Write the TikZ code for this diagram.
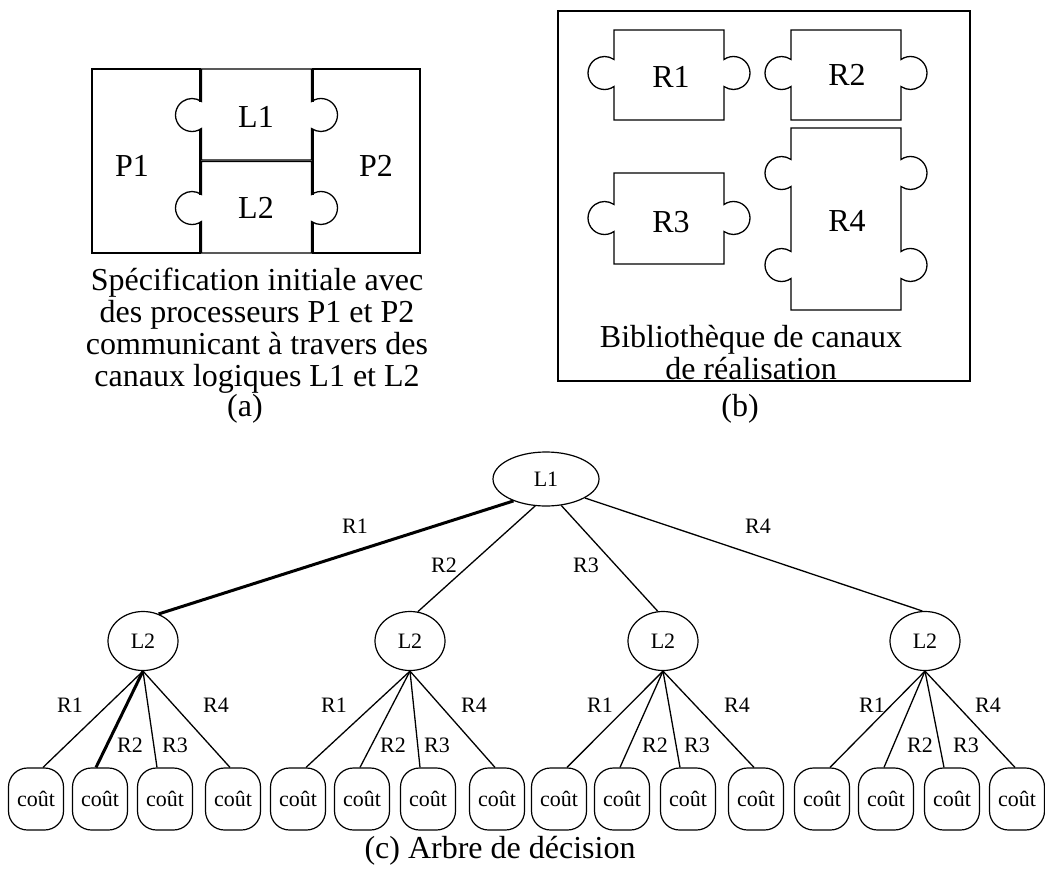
\documentclass[tikz,border=0pt]{standalone}
\usepackage{fontspec}
\setmainfont{Liberation Serif}
\usetikzlibrary{shapes.geometric}
\begin{document}
\begin{tikzpicture}[x=1pt,y=-1pt,
  ln/.style={line width=1.3pt},
  big/.style={font=\fontsize{32}{32}\selectfont},
  small/.style={font=\fontsize{22}{24}\selectfont},
  ell/.style={draw, ellipse, line width=1.2pt, inner sep=0pt, small},
  leaf/.style={draw, rectangle, rounded corners=19pt, minimum width=55pt, minimum height=62pt, inner sep=0pt, line width=1.2pt, small},
  lab/.style={small, inner sep=0pt},
  txt/.style={big, inner sep=0pt},
  heavy/.style={line width=3pt}]
\useasboundingbox (0,0) rectangle (1045,878);

% ---------- (a) ----------
\draw[ln] (200,101.5) -- (200,69) -- (92,69) -- (92,253) -- (200,253) -- (200,221.5)
          (200,128.5) -- (200,194.5);
\draw[ln] (313,101.5) -- (313,69) -- (420,69) -- (420,253) -- (313,253) -- (313,221.5)
          (313,128.5) -- (313,194.5);
\draw[ln] (201.5,69) -- (311.5,69) -- (311.5,101.5) arc[start angle=125.1, end angle=-125.1, radius=16.5pt]
   -- (311.5,160) -- (201.5,160) -- (201.5,128.5) arc[start angle=-54.9, end angle=-305.1, radius=16.5pt] -- cycle;
\draw[ln] (201.5,161.5) -- (311.5,161.5) -- (311.5,194.5) arc[start angle=125.1, end angle=-125.1, radius=16.5pt]
   -- (311.5,253) -- (201.5,253) -- (201.5,221.5) arc[start angle=-54.9, end angle=-305.1, radius=16.5pt] -- cycle;
\node[txt] (p1) at (132,166) {P1};
\node[txt] (p2) at (376,166) {P2};
\node[txt] (l1) at (256,117) {L1};
\node[txt] (l2) at (256,208) {L2};
\node[txt, align=center] (capa) at (257,331) {Spécification initiale avec\\des processeurs P1 et P2\\communicant à travers des\\canaux logiques L1 et L2};
\node[txt] (lba) at (245,409) {(a)};

% ---------- (b) ----------
\draw[ln] (558,11) rectangle (970,381);
\draw[ln] (614,30) -- (724,30) -- (724,59.5) arc[start angle=125.1, end angle=-125.1, radius=16.5pt]
   -- (724,120) -- (614,120) -- (614,86.5) arc[start angle=-54.9, end angle=-305.1, radius=16.5pt] -- cycle;
\draw[ln] (791,30) -- (901,30) -- (901,59.5) arc[start angle=125.1, end angle=-125.1, radius=16.5pt]
   -- (901,120) -- (791,120) -- (791,86.5) arc[start angle=-54.9, end angle=-305.1, radius=16.5pt] -- cycle;
\draw[ln] (614,173) -- (724,173) -- (724,204.5) arc[start angle=125.1, end angle=-125.1, radius=16.5pt]
   -- (724,264) -- (614,264) -- (614,231.5) arc[start angle=-54.9, end angle=-305.1, radius=16.5pt] -- cycle;
\draw[ln] (791,128) -- (901,128) -- (901,159.5) arc[start angle=125.1, end angle=-125.1, radius=16.5pt]
   -- (901,251.5) arc[start angle=125.1, end angle=-125.1, radius=16.5pt] -- (901,310)
   -- (791,310) -- (791,278.5) arc[start angle=-54.9, end angle=-305.1, radius=16.5pt]
   -- (791,186.5) arc[start angle=-54.9, end angle=-305.1, radius=16.5pt] -- cycle;
\node[txt] (r1) at (671,77) {R1};
\node[txt] (r2) at (847,75) {R2};
\node[txt] (r3) at (671,222) {R3};
\node[txt] (r4) at (847,221) {R4};
\node[txt, align=center] (capb) at (751,353) {Bibliothèque de canaux\\de réalisation};
\node[txt] (lbb) at (740,409) {(b)};

% ---------- (c) ----------
\node[ell, minimum width=106pt, minimum height=54pt] (t) at (546,479) {L1};
\foreach \g/\cx in {1/143,2/410,3/663,4/925}
  \node[ell, minimum width=70pt, minimum height=59pt] (m\g) at (\cx,641) {L2};
\foreach \g/\a/\b/\c/\d in {1/36/100/165/233, 2/298/362/428/497, 3/559/622/688/756, 4/822/886/952/1017} {
  \node[leaf] (f\g a) at (\a,799) {coût};
  \node[leaf] (f\g b) at (\b,799) {coût};
  \node[leaf] (f\g c) at (\c,799) {coût};
  \node[leaf] (f\g d) at (\d,799) {coût};
}
\draw[heavy] (t.214) -- (m1.60);
\draw[ln] (t.248) -- (m2.75);
\draw[ln] (t.300) -- (m3.100);
\draw[ln] (t.334) -- (m4.95);
\draw[ln] (m1.south) -- ([xshift=7pt]f1a.north);
\draw[heavy] (m1.south) -- ([xshift=-4pt]f1b.north);
\draw[ln] (m1.south) -- ([xshift=-8pt]f1c.north);
\draw[ln] (m1.south) -- ([xshift=-3pt]f1d.north);
\foreach \g in {2,3,4} {
  \draw[ln] (m\g.south) -- ([xshift=8pt]f\g a.north);
  \draw[ln] (m\g.south) -- ([xshift=-2pt]f\g b.north);
  \draw[ln] (m\g.south) -- ([xshift=-8pt]f\g c.north);
  \draw[ln] (m\g.south) -- ([xshift=-2pt]f\g d.north);
}
\node[lab] (e1) at (355,526) {R1};
\node[lab] (e2) at (444,565) {R2};
\node[lab] (e3) at (586,565) {R3};
\node[lab] (e4) at (758,526) {R4};
\foreach \i/\p/\q/\r/\s in {1/70/130/175/216, 2/334/393/437/474, 3/600/655/697/737, 4/872/920/966/988} {
  \node[lab] (g\i a) at (\p,705) {R1};
  \node[lab] (g\i b) at (\q,745) {R2};
  \node[lab] (g\i c) at (\r,745) {R3};
  \node[lab] (g\i d) at (\s,705) {R4};
}
\node[txt] (capc) at (500,851) {(c) Arbre de décision};
\end{tikzpicture}
\end{document}
